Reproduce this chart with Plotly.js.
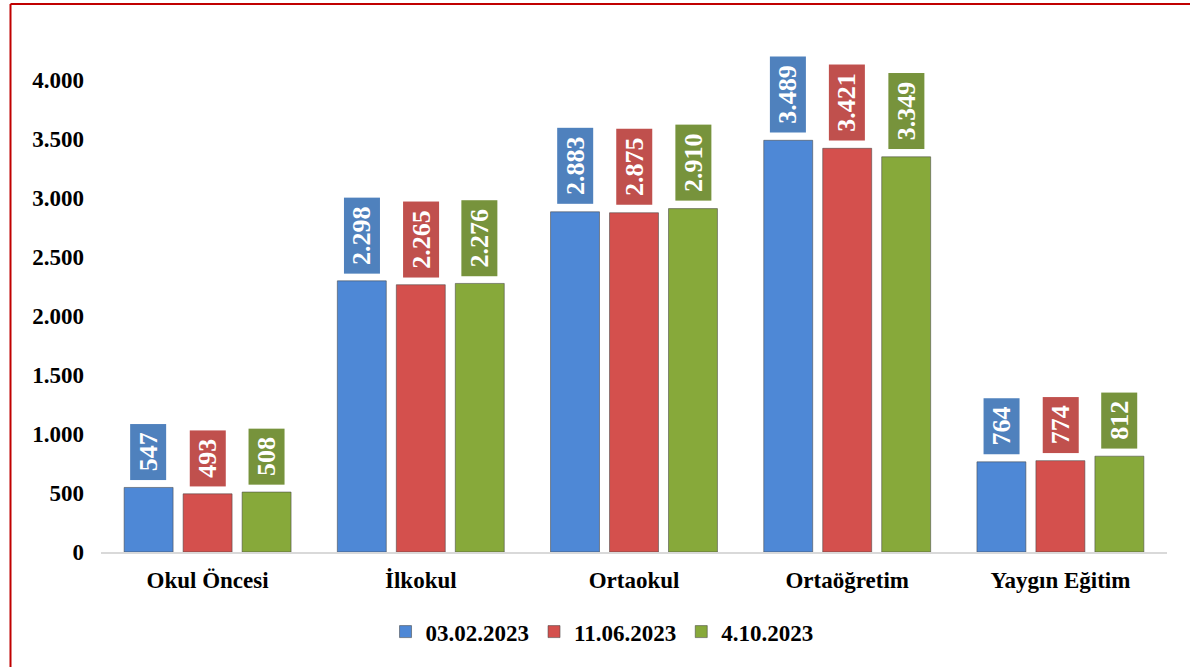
<!DOCTYPE html>
<html>
<head>
<meta charset="utf-8">
<script src="https://cdn.plot.ly/plotly-3.0.1.min.js"></script>
<style>html,body{margin:0;padding:0;background:#fff;}#chart{width:1190px;height:667px;}</style>
</head>
<body>
<div id="chart"></div>
<script>
const categories = ["Okul Öncesi", "İlkokul", "Ortaokul", "Ortaöğretim", "Yaygın Eğitim"];
const seriesNames = ["03.02.2023", "11.06.2023", "4.10.2023"];
const values0302 = [547, 2298, 2883, 3489, 764];
const values1106 = [493, 2265, 2875, 3421, 774];
const values0410 = [508, 2276, 2910, 3349, 812];
const yTicks = [0, 500, 1000, 1500, 2000, 2500, 3000, 3500, 4000];

const seriesValues = [values0302, values1106, values0410];
const barColors = ["#4e88d6", "#d4504d", "#87a93a"];
const boxColors = ["#4f81bd", "#c0504d", "#77933c"];
const FONT = "Liberation Serif, Times New Roman, serif";

const traces = seriesValues.map((vals, i) => ({
  type: "bar",
  name: seriesNames[i],
  x: categories,
  y: vals,
  marker: { color: barColors[i], line: { color: "rgba(70,70,70,0.55)", width: 1 } },
  hoverinfo: "x+y"
}));

function fmt(v) {
  return String(v).replace(/\B(?=(\d{3})+(?!\d))/g, ".");
}

const annotations = [];
seriesValues.forEach((vals, i) => {
  vals.forEach((v, j) => {
    annotations.push({
      x: categories[j], y: v, xref: "x", yref: "y",
      xshift: (i - 1) * 59, yshift: 7,
      text: "\u2009<b>" + fmt(v) + "</b>\u2009",
      textangle: -90,
      showarrow: false,
      xanchor: "center", yanchor: "bottom",
      bgcolor: boxColors[i],
      borderpad: 3,
      font: { family: FONT, size: 26, color: "#ffffff" }
    });
  });
});

// red frame (top and left edges)
const pxX = 1 / 1066, pxY = 1 / 531;
const shapes = [
  { type: "line", xref: "paper", yref: "paper",
    x0: (10.5 - 101) * pxX, x1: (1300 - 101) * pxX,
    y0: (552 - 4) * pxY, y1: (552 - 4) * pxY,
    line: { color: "#c00000", width: 2 } },
  { type: "line", xref: "paper", yref: "paper",
    x0: (10.5 - 101) * pxX, x1: (10.5 - 101) * pxX,
    y0: (552 - 4) * pxY, y1: (552 - 700) * pxY,
    line: { color: "#c00000", width: 2 } }
];

const layout = {
  width: 1190, height: 667,
  margin: { l: 101, r: 23, t: 21, b: 115 },
  paper_bgcolor: "#ffffff", plot_bgcolor: "#ffffff",
  separators: ",.",
  barmode: "group",
  bargap: 0.17,
  bargroupgap: 0.17,
  showlegend: true,
  legend: {
    orientation: "h", x: 0.47, xanchor: "center", y: -0.15, yanchor: "middle",
    font: { family: FONT, size: 23, color: "#000" },
    itemwidth: 30, traceorder: "normal"
  },
  xaxis: {
    type: "category",
    showgrid: false, zeroline: false,
    showline: true, linecolor: "#d9d9d9", linewidth: 2,
    ticks: "",
    tickfont: { family: FONT, size: 23, color: "#000", weight: "bold" },
    ticklabelstandoff: 6
  },
  yaxis: {
    range: [0, 4500],
    tickvals: yTicks,
    tickformat: ",d",
    showgrid: false, zeroline: false, showline: false,
    ticks: "",
    tickfont: { family: FONT, size: 23, color: "#000", weight: "bold" },
    ticklabelstandoff: 16
  },
  annotations: annotations,
  shapes: shapes,
  font: { family: FONT, weight: "bold" }
};

Plotly.newPlot("chart", traces, layout, { displayModeBar: false, staticPlot: true });
</script>
</body>
</html>
